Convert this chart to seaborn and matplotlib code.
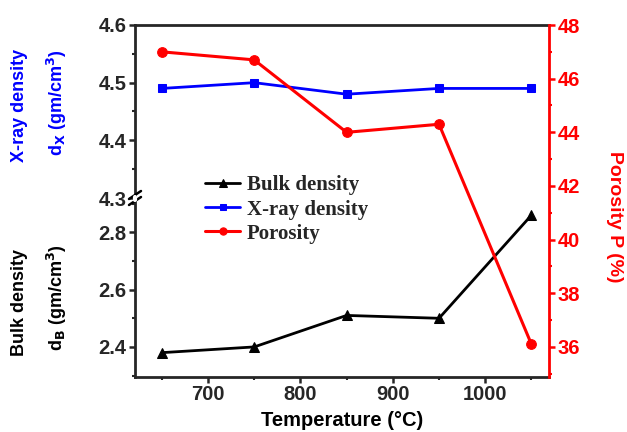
import numpy as np
import pandas as pd
import seaborn as sns
import matplotlib.pyplot as plt
from matplotlib.ticker import MultipleLocator

# data
temperature = [650, 750, 850, 950, 1050]
bulk_density = [2.38, 2.40, 2.51, 2.50, 2.86]
xray_density = [4.49, 4.50, 4.48, 4.49, 4.49]
porosity = [47.0, 46.7, 44.0, 44.3, 36.1]

sns.set_style("ticks")
plt.rcParams['font.family'] = ['Liberation Sans', 'DejaVu Sans']
plt.rcParams['font.weight'] = 'bold'
plt.rcParams['mathtext.default'] = 'bf'

W, H = 627, 432
L, R, T, B, BRK = 135, 549, 25, 377, 198

fig = plt.figure(figsize=(W / 100, H / 100), dpi=100)
ax_top = fig.add_axes([L / W, 1 - BRK / H, (R - L) / W, (BRK - T) / H])
ax_bot = fig.add_axes([L / W, 1 - B / H, (R - L) / W, (B - BRK) / H])
ax_r = fig.add_axes([L / W, 1 - B / H, (R - L) / W, (B - T) / H])
ax_r.patch.set_alpha(0)

df = pd.DataFrame({"T": temperature, "bulk": bulk_density,
                   "xray": xray_density, "por": porosity})

sns.lineplot(data=df, x="T", y="bulk", marker="^", color="black", lw=2,
             markersize=7.5, markeredgecolor="black", ax=ax_bot, label="Bulk density")
sns.lineplot(data=df, x="T", y="xray", marker="s", color="blue", lw=2,
             markersize=6, markeredgecolor="blue", ax=ax_top, label="X-ray density")
sns.lineplot(data=df, x="T", y="por", marker="o", color="red", lw=2.2,
             markersize=7, markeredgecolor="red", ax=ax_r, label="Porosity")

xlim = (621, 1069)
for ax in (ax_top, ax_bot, ax_r):
    ax.set_xlim(*xlim)
    ax.set_xlabel("")
    ax.set_ylabel("")
    if ax.get_legend():
        ax.get_legend().remove()

lw_sp = 2.0
tick_fs = 14.5
ax_top.set_ylim(4.3, 4.6)
ax_top.yaxis.set_minor_locator(MultipleLocator(0.05))
ax_top.set_yticks([4.3, 4.4, 4.5, 4.6])
ax_top.set_yticklabels(["4.3", "4.4", "4.5", "4.6"])
ax_top.tick_params(axis='x', bottom=False, labelbottom=False)
for s in ("right", "bottom"):
    ax_top.spines[s].set_visible(False)
for s in ("left", "top"):
    ax_top.spines[s].set_linewidth(lw_sp)

ax_bot.set_ylim(2.295, 2.92)
ax_bot.set_yticks([2.4, 2.6, 2.8])
ax_bot.yaxis.set_minor_locator(MultipleLocator(0.1))
ax_bot.set_xticks([700, 800, 900, 1000])
ax_bot.xaxis.set_minor_locator(MultipleLocator(50))
for s in ("right", "top"):
    ax_bot.spines[s].set_visible(False)
for s in ("left", "bottom"):
    ax_bot.spines[s].set_linewidth(lw_sp)

for ax in (ax_top, ax_bot):
    ax.tick_params(which='major', length=4, width=1.8, labelsize=tick_fs, direction='out', pad=2)
    ax.tick_params(which='minor', length=2.5, width=1.5, direction='out')
    for lab in ax.get_xticklabels() + ax.get_yticklabels():
        lab.set_fontweight('bold')

ax_r.set_ylim(34.88, 48)
ax_r.yaxis.tick_right()
ax_r.set_yticks([36, 38, 40, 42, 44, 46, 48])
ax_r.yaxis.set_minor_locator(MultipleLocator(1))
ax_r.tick_params(axis='x', bottom=False, labelbottom=False)
ax_r.tick_params(axis='y', which='major', length=4, width=1.8, colors='red',
                 labelsize=tick_fs, direction='out', pad=2)
ax_r.tick_params(axis='y', which='minor', length=2.5, width=1.5, colors='red', direction='out')
for lab in ax_r.get_yticklabels():
    lab.set_fontweight('bold')
for s in ("left", "top", "bottom"):
    ax_r.spines[s].set_visible(False)
ax_r.spines["right"].set_visible(True)
ax_r.spines["right"].set_color("red")
ax_r.spines["right"].set_linewidth(lw_sp)

# break marks on the left spine
d = dict(transform=fig.transFigure, color="black", lw=1.8, clip_on=False)
for dy in (-3, 3):
    fig.add_artist(plt.Line2D([(L - 6) / W, (L + 6) / W],
                              [1 - (BRK + dy + 4) / H, 1 - (BRK + dy - 4) / H], **d))
fig.add_artist(plt.Line2D([L / W, L / W], [1 - (BRK + 1.5) / H, 1 - (BRK - 1.5) / H],
                          transform=fig.transFigure, color="white", lw=3))

# axis labels
lab_fs = 13
fig.text(20 / W, 1 - 105 / H, "X-ray density", rotation=90, color="blue",
         fontsize=lab_fs, fontweight='bold', ha='center', va='center')
fig.text(57 / W, 1 - 103 / H, r"d$_\mathbf{X}$ (gm/cm$^\mathbf{3}$)", rotation=90, color="blue",
         fontsize=lab_fs, fontweight='bold', ha='center', va='center')
fig.text(20 / W, 1 - 302 / H, "Bulk density", rotation=90, color="black",
         fontsize=lab_fs, fontweight='bold', ha='center', va='center')
fig.text(57 / W, 1 - 298 / H, r"d$_\mathbf{B}$ (gm/cm$^\mathbf{3}$)", rotation=90, color="black",
         fontsize=lab_fs, fontweight='bold', ha='center', va='center')
fig.text(614 / W, 1 - 217 / H, "Porosity P (%)", rotation=270, color="red",
         fontsize=14, fontweight='bold', ha='center', va='center')
fig.text((L + R) / 2 / W, 1 - 421 / H, "Temperature (°C)", color="black",
         fontsize=14.5, fontweight='bold', ha='center', va='center')

handles = []
for ax in (ax_bot, ax_top, ax_r):
    handles += ax.get_lines()[:1]
leg = ax_r.legend(handles, ["Bulk density", "X-ray density", "Porosity"],
                  loc="upper left", bbox_to_anchor=((197 - L) / (R - L), 1 - (167 - T) / (B - T)),
                  frameon=False, handlelength=1.65, handletextpad=0.35, labelspacing=0.2,
                  markerscale=0.75, borderaxespad=0,
                  prop={'family': 'Liberation Serif', 'weight': 'bold', 'size': 15})

fig.savefig("out.png", dpi=100)
